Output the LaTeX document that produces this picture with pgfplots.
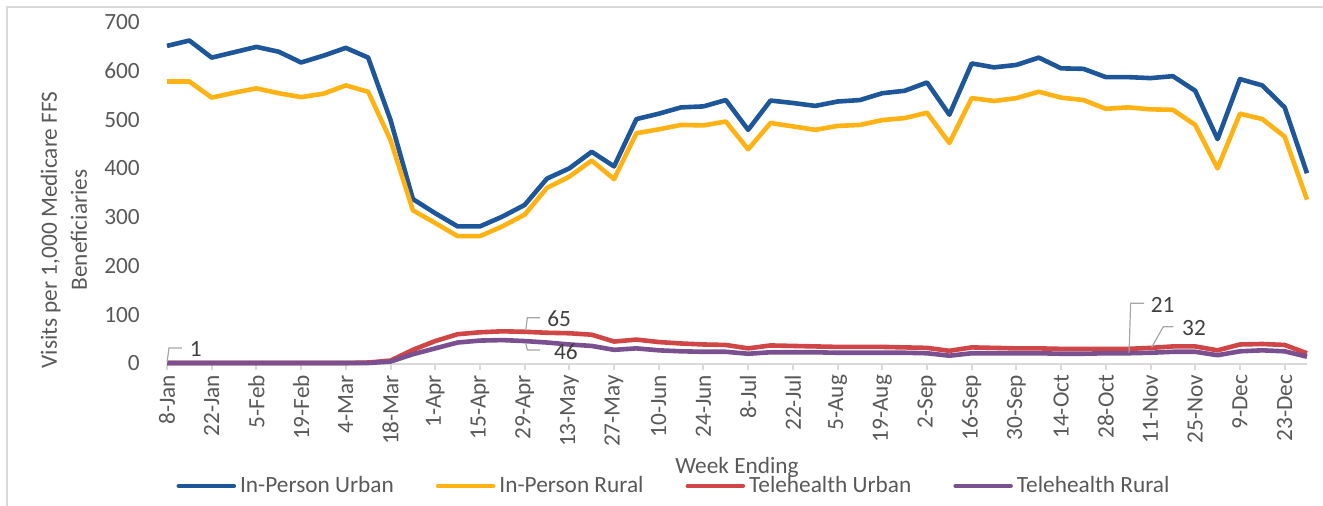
\documentclass[border=0pt]{standalone}
\usepackage{pgfplots}
\pgfplotsset{compat=1.18}
\usepackage{pgfplotstable}
\usepackage{fontspec}
\setmainfont{Carlito}
\definecolor{cUrb}{HTML}{1D5699}
\definecolor{cRur}{HTML}{FFB214}
\definecolor{cTU}{HTML}{D04545}
\definecolor{cTR}{HTML}{7A5090}
\definecolor{axgray}{HTML}{D9D9D9}
\definecolor{txtgray}{HTML}{595959}
\definecolor{lblgray}{HTML}{404040}
\definecolor{leadgray}{HTML}{A6A6A6}
\pgfplotstableread{
x ipu ipr thu thr
0 651 578 1 1
1 662 578 1 1
2 627 545 1 1
3 638 555 1 1
4 649 564 1 1
5 639 554 1 1
6 617 546 1 1
7 631 553 1 1
8 647 570 1 1
9 627 557 2 1
10 499 458 6 4
11 337 314 28 19
12 308 288 46 31
13 281 261 60 43
14 281 261 64 47
15 301 281 66 48
16 325 305 65 46
17 379 360 63 43
18 400 383 62 39
19 434 416 59 36
20 404 378 45 28
21 501 472 49 31
22 512 480 44 27
23 525 489 41 25
24 527 488 39 24
25 540 496 38 24
26 479 439 31 20
27 539 493 37 23
28 534 486 36 23
29 528 479 35 23
30 537 487 34 22
31 540 489 34 22
32 554 499 34 22
33 559 503 33 22
34 576 514 32 21
35 510 452 26 16
36 615 544 33 21
37 607 538 32 21
38 612 544 31 21
39 627 557 31 21
40 605 545 30 20
41 604 540 30 20
42 587 522 30 21
43 587 525 30 21
44 585 521 32 22
45 589 520 35 24
46 559 489 35 24
47 460 400 27 17
48 583 512 39 25
49 570 501 40 27
50 525 465 38 25
51 390 336 21 14
}\datatable
\begin{document}
\begin{tikzpicture}
\useasboundingbox (-83.5bp,-71.25bp) rectangle (578bp,181.75bp);
\begin{axis}[
  scale only axis,
  width=570bp, height=170.75bp,
  xmin=0, xmax=51, ymin=0, ymax=700,
  clip=false,
  separate axis lines,
  axis x line*=bottom,
  axis y line*=left,
  y axis line style={draw=none},
  x axis line style={draw=axgray, line width=1bp},
  ytick={0,100,...,700},
  ytick style={draw=none},
  xtick={0,2,...,50},
  xticklabels={8-Jan,22-Jan,5-Feb,19-Feb,4-Mar,18-Mar,1-Apr,15-Apr,29-Apr,13-May,27-May,10-Jun,24-Jun,8-Jul,22-Jul,5-Aug,19-Aug,2-Sep,16-Sep,30-Sep,14-Oct,28-Oct,11-Nov,25-Nov,9-Dec,23-Dec},
  tick align=outside,
  major tick length=3bp,
  xtick style={draw=axgray, line width=1bp},
  /pgf/number format/assume math mode=true,
  tick label style={font=\fontsize{11.65bp}{14bp}\selectfont, text=txtgray},
  yticklabel style={inner sep=0pt, anchor=east, xshift=-10.4bp},
  xticklabel style={inner sep=0pt, yshift=-2.5bp, rotate=90, anchor=east},
  xlabel={Week Ending},
  xlabel style={at={(rel axis cs:0.5,-0.305)}, anchor=center, font=\fontsize{11.65bp}{14bp}\selectfont, text=txtgray, inner sep=0pt},
  ylabel={Visits per 1,000 Medicare FFS\\Beneficiaries},
  ylabel style={at={(rel axis cs:-0.0904,0.391)}, anchor=center, align=center, font=\fontsize{11.65bp}{15bp}\selectfont, text=txtgray, inner sep=0pt},
  legend columns=4,
  legend style={at={(rel axis cs:0.4456,-0.3587)}, anchor=center, draw=none, fill=none,
    font=\fontsize{11.65bp}{14bp}\selectfont, text=txtgray,
    nodes={inner xsep=2bp, inner ysep=0pt},
    /tikz/every even column/.append style={column sep=19bp}},
  legend image code/.code={\draw[#1, line width=2.3bp, line cap=round] (0bp,0bp) -- (27.5bp,0bp);},
  every axis plot/.append style={line width=2.3bp, line join=round, no markers},
]
\addplot[cUrb] table[x=x,y=ipu]{\datatable};
\addlegendentry{In-Person Urban}
\addplot[cRur] table[x=x,y=ipr]{\datatable};
\addlegendentry{In-Person Rural}
\addplot[cTU] table[x=x,y=thu]{\datatable};
\addlegendentry{Telehealth Urban}
\addplot[cTR] table[x=x,y=thr]{\datatable};
\addlegendentry{Telehealth Rural}
% data label callouts
\draw[leadgray, line width=0.6bp] (axis cs:0,2) -- (axis cs:0.09,31.8) -- (axis cs:0.67,31.8);
\node[anchor=west, inner sep=0pt, text=lblgray, font=\fontsize{11.65bp}{14bp}\selectfont] at (axis cs:1.0,29) {1};
\draw[leadgray, line width=0.6bp] (axis cs:16.05,68) -- (axis cs:16.12,93.9) -- (axis cs:16.69,93.9);
\node[anchor=west, inner sep=0pt, text=lblgray, font=\fontsize{11.65bp}{14bp}\selectfont] at (axis cs:17.0,91.5) {65};
\draw[leadgray, line width=0.6bp] (axis cs:16.05,42) -- (axis cs:16.12,27.7) -- (axis cs:16.69,27.7);
\node[anchor=west, inner sep=0pt, text=lblgray, font=\fontsize{11.65bp}{14bp}\selectfont] at (axis cs:17.3,24.5) {46};
\draw[leadgray, line width=0.6bp] (axis cs:43.04,22.5) -- (axis cs:43.11,123.4) -- (axis cs:43.71,123.4);
\node[anchor=west, inner sep=0pt, text=lblgray, font=\fontsize{11.65bp}{14bp}\selectfont] at (axis cs:44.0,120.5) {21};
\draw[leadgray, line width=0.6bp] (axis cs:44.05,33) -- (axis cs:44.57,75.4) -- (axis cs:45.02,75.4);
\node[anchor=west, inner sep=0pt, text=lblgray, font=\fontsize{11.65bp}{14bp}\selectfont] at (axis cs:45.4,73.5) {32};
\end{axis}
\draw[axgray, line width=0.9bp] (-80bp,-80bp) -- (-80bp,178.25bp) -- (590bp,178.25bp);
\end{tikzpicture}
\end{document}
